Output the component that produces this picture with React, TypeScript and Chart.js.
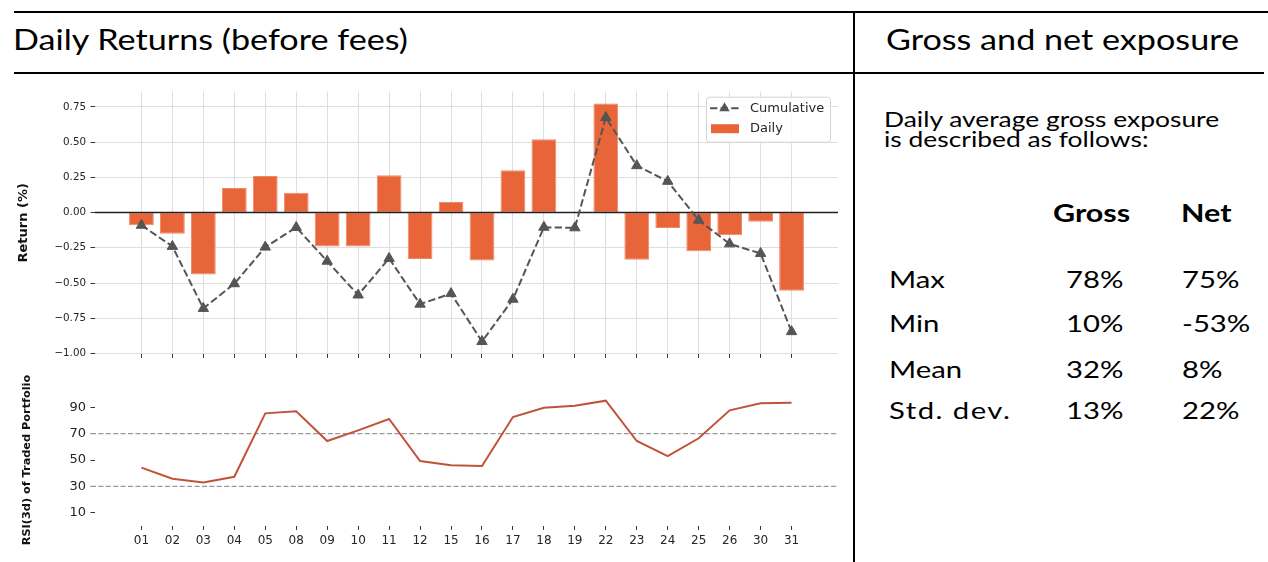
import React, { useEffect, useRef } from "react";
import { Chart, registerables } from "chart.js";
Chart.register(...registerables);

// ---------- data ----------
const days = ["01","02","03","04","05","08","09","10","11","12","15","16","17","18","19","22","23","24","25","26","30","31"];
const dailyReturns = [-0.09,-0.15,-0.44,0.175,0.26,0.14,-0.24,-0.24,0.265,-0.33,0.075,-0.34,0.30,0.52,0,0.775,-0.335,-0.11,-0.275,-0.16,-0.065,-0.555];
const cumulativeReturns = [-0.09,-0.24,-0.68,-0.505,-0.245,-0.105,-0.345,-0.585,-0.325,-0.65,-0.575,-0.915,-0.615,-0.104,-0.108,0.675,0.333,0.222,-0.054,-0.222,-0.29,-0.845];
const rsi3d = [44.2,35.8,33.0,37.3,85.4,86.9,64.4,72.5,81.1,49.2,46.0,45.4,82.6,89.7,91.2,95.0,64.4,53.0,66.5,87.7,93.0,93.5];
const returnTicks = [-1,-0.75,-0.5,-0.25,0,0.25,0.5,0.75];
const rsiTicks = [10,30,50,70,90];
const rsiBands = [70,30];
const statRows = ["Max","Min","Mean","Std. dev."];
const grossStats = ["78%","10%","32%","13%"];
const netStats = ["75%","-53%","8%","22%"];

const MPL = "'DejaVu Sans', sans-serif";
const TXT = "#262626";
const GRID = "#dedede";
const TICK = "#333333";
const BAR = "#E8653A";
const CUM = "#555555";
const RSI = "#C0533A";

const fmtRet = (v: number) => (v < 0 ? "\u2212" : "") + Math.abs(v).toFixed(2);

const zeroLinePlugin = {
  id: "zeroLine",
  afterDatasetDraw(chart: any, args: any) {
    if (args.index !== 1) return;
    const { ctx, chartArea } = chart;
    const y = chart.scales.y.getPixelForValue(0);
    ctx.save();
    ctx.strokeStyle = "#222";
    ctx.lineWidth = 1.5;
    ctx.beginPath();
    ctx.moveTo(chartArea.left, y);
    ctx.lineTo(chartArea.right, y);
    ctx.stroke();
    ctx.restore();
  },
};

const legendPlugin = {
  id: "mplLegend",
  afterDraw(chart: any) {
    const { ctx, chartArea } = chart;
    const w = 124, h = 45;
    const L = chartArea.right - 8 - w;
    const T = chartArea.top + 5;
    ctx.save();
    ctx.fillStyle = "rgba(255,255,255,0.85)";
    ctx.strokeStyle = "#d4d4d4";
    ctx.lineWidth = 1;
    ctx.beginPath();
    (ctx as any).roundRect(L + 0.5, T + 0.5, w, h, 3);
    ctx.fill();
    ctx.stroke();
    const r1 = T + 11.5, r2 = T + 32;
    ctx.strokeStyle = CUM;
    ctx.lineWidth = 2;
    ctx.setLineDash([7.4, 3.2]);
    ctx.beginPath();
    ctx.moveTo(L + 4, r1);
    ctx.lineTo(L + 33, r1);
    ctx.stroke();
    ctx.setLineDash([]);
    const cx = L + 18.5, rad = 6;
    ctx.fillStyle = CUM;
    ctx.beginPath();
    ctx.moveTo(cx, r1 - rad);
    ctx.lineTo(cx + rad * 0.866, r1 + rad * 0.5);
    ctx.lineTo(cx - rad * 0.866, r1 + rad * 0.5);
    ctx.closePath();
    ctx.fill();
    ctx.fillStyle = BAR;
    ctx.fillRect(L + 5, r2 - 4.5, 28, 9);
    ctx.fillStyle = TXT;
    ctx.font = `13px ${MPL}`;
    ctx.textBaseline = "middle";
    ctx.fillText("Cumulative", L + 44, r1);
    ctx.fillText("Daily", L + 44, r2);
    ctx.restore();
  },
};

const bandsPlugin = {
  id: "rsiBands",
  beforeDatasetsDraw(chart: any) {
    const { ctx, chartArea } = chart;
    ctx.save();
    ctx.strokeStyle = "#999999";
    ctx.lineWidth = 1.3;
    ctx.setLineDash([5, 2.4]);
    rsiBands.forEach((v) => {
      const y = chart.scales.y.getPixelForValue(v);
      ctx.beginPath();
      ctx.moveTo(chartArea.left - 4, y);
      ctx.lineTo(chartArea.right, y);
      ctx.stroke();
    });
    ctx.restore();
  },
};

const xBase = (hideLabels: boolean, h: number, fontSize: number) => ({
  type: "linear",
  offset: false,
  min: -1.5,
  max: 22.5,
  afterBuildTicks: (s: any) => {
    s.ticks = days.map((_, i) => ({ value: i }));
  },
  afterFit: (s: any) => {
    s.height = h;
  },
  ticks: {
    display: !hideLabels,
    autoSkip: false,
    maxRotation: 0,
    minRotation: 0,
    padding: 4,
    color: TXT,
    font: { family: MPL, size: fontSize },
    callback: (v: any) => days[v] ?? "",
  },
  border: { display: false },
});

function TopChart() {
  const ref = useRef<HTMLCanvasElement>(null);
  useEffect(() => {
    const chart = new Chart(ref.current!, {
      data: {
        datasets: [
          {
            type: "line",
            label: "Cumulative",
            data: cumulativeReturns.map((y, i) => ({ x: i, y })),
            borderColor: CUM,
            borderWidth: 2,
            borderDash: [7.4, 3.2],
            pointStyle: "triangle",
            pointRadius: 6,
            pointBackgroundColor: CUM,
            pointBorderColor: CUM,
            pointBorderWidth: 1,
            tension: 0,
            order: 0,
          },
          {
            type: "bar",
            label: "Daily",
            data: dailyReturns.map((y, i) => ({ x: i, y })),
            backgroundColor: BAR,
            borderColor: "#EF8A66",
            borderWidth: 1,
            borderSkipped: false,
            barPercentage: 0.8,
            categoryPercentage: 1,
            order: 1,
          },
        ],
      } as any,
      options: {
        responsive: false,
        animation: false,
        events: [],
        layout: { padding: { top: 16.7, right: 12, left: 0, bottom: 0 } },
        plugins: { legend: { display: false }, tooltip: { enabled: false } },
        scales: {
          x: {
            ...xBase(true, 21.1, 12),
            grid: { offset: false, color: GRID, lineWidth: 1, tickColor: TICK, tickLength: 4, tickWidth: 1 },
          },
          y: {
            min: -1.003,
            max: 0.858,
            afterBuildTicks: (s: any) => {
              s.ticks = returnTicks.map((v) => ({ value: v }));
            },
            afterFit: (s: any) => {
              s.width = 95;
            },
            ticks: {
              padding: 4.5,
              color: TXT,
              font: { family: MPL, size: 10.3 },
              callback: (v: any) => fmtRet(Number(v)),
            },
            grid: { color: GRID, lineWidth: 1, tickColor: TICK, tickLength: 4.5, tickWidth: 1 },
            border: { display: false },
            title: {
              display: true,
              text: "Return (%)",
              color: "#111",
              font: { family: MPL, size: 13, weight: "bold" },
              padding: { top: 15.9, bottom: 0 },
            },
          },
        },
      } as any,
      plugins: [zeroLinePlugin, legendPlugin],
    });
    return () => chart.destroy();
  }, []);
  return (
    <canvas
      ref={ref}
      width={850}
      height={300}
      style={{ position: "absolute", left: 0, top: 75, width: 850, height: 300 }}
    />
  );
}

function RsiChart() {
  const ref = useRef<HTMLCanvasElement>(null);
  useEffect(() => {
    const chart = new Chart(ref.current!, {
      type: "line",
      data: {
        datasets: [
          {
            label: "RSI",
            data: rsi3d.map((y, i) => ({ x: i, y })),
            borderColor: RSI,
            borderWidth: 2,
            pointRadius: 0,
            tension: 0,
          },
        ],
      } as any,
      options: {
        responsive: false,
        animation: false,
        events: [],
        layout: { padding: { top: 19.1, right: 12, left: 0, bottom: 0 } },
        plugins: { legend: { display: false }, tooltip: { enabled: false } },
        scales: {
          x: {
            ...xBase(false, 36.1, 12),
            grid: { offset: false, drawOnChartArea: false, tickColor: TICK, tickLength: 4, tickWidth: 1 },
          },
          y: {
            min: 0,
            max: 100,
            afterBuildTicks: (s: any) => {
              s.ticks = rsiTicks.map((v) => ({ value: v }));
            },
            afterFit: (s: any) => {
              s.width = 95;
            },
            ticks: {
              padding: 4.5,
              color: TXT,
              font: { family: MPL, size: 13 },
            },
            grid: { drawOnChartArea: false, tickColor: TICK, tickLength: 4.5, tickWidth: 1 },
            border: { display: false },
            title: {
              display: true,
              text: "RSI(3d) of Traded Portfolio",
              color: "#111",
              font: { family: MPL, size: 11.3, weight: "bold" },
              padding: { top: 20.7, bottom: 0 },
            },
          },
        },
      } as any,
      plugins: [bandsPlugin],
    });
    return () => chart.destroy();
  }, []);
  return (
    <canvas
      ref={ref}
      width={850}
      height={187}
      style={{ position: "absolute", left: 0, top: 375, width: 850, height: 187 }}
    />
  );
}

const Txt = ({ x, baseline, size, weight, sx = 1.22, ls = 0, children }: any) => (
  <div
    style={{
      position: "absolute",
      left: x,
      top: baseline - 0.887 * size,
      fontFamily: "Lato, 'Open Sans', sans-serif",
      fontSize: size,
      lineHeight: `${size}px`,
      fontWeight: weight || 400,
      letterSpacing: ls,
      whiteSpace: "nowrap",
      color: "#000",
      transform: `scaleX(${sx})`,
      transformOrigin: "0 50%",
    }}
  >
    {children}
  </div>
);

const Rule = ({ x, y, w, h }: any) => (
  <div style={{ position: "absolute", left: x, top: y, width: w, height: h, background: "#000" }} />
);

const rowBaselines = [288, 332, 378, 419.5];

export default function App() {
  return (
    <div
      style={{
        position: "absolute",
        left: 0,
        top: 0,
        width: 1268,
        height: 562,
        background: "#fff",
        overflow: "hidden",
      }}
    >
      <Rule x={14} y={10.7} w={1254} h={2} />
      <Rule x={14} y={72} w={840} h={2} />
      <Rule x={855} y={72} w={409} h={2} />
      <Rule x={853} y={11} w={2} h={551} />
      <Txt x={13} baseline={49.5} size={28}>Daily Returns (before fees)</Txt>
      <Txt x={886} baseline={49.5} size={28}>Gross and net exposure</Txt>
      <Txt x={884} baseline={127.7} size={22} sx={1.2}>Daily average gross exposure</Txt>
      <Txt x={884} baseline={147.7} size={22} sx={1.2}>is described as follows:</Txt>
      <Txt x={1053} baseline={221.7} size={25} weight={700}>Gross</Txt>
      <Txt x={1181} baseline={221.7} size={25} weight={700}>Net</Txt>
      {statRows.map((r, i) => (
        <React.Fragment key={r}>
          <Txt x={889} baseline={rowBaselines[i]} size={24} ls={r === "Std. dev." ? 1.2 : 0}>{r}</Txt>
          <Txt x={1066} baseline={rowBaselines[i]} size={24}>{grossStats[i]}</Txt>
          <Txt x={1182} baseline={rowBaselines[i]} size={24}>{netStats[i]}</Txt>
        </React.Fragment>
      ))}
      <TopChart />
      <RsiChart />
    </div>
  );
}
